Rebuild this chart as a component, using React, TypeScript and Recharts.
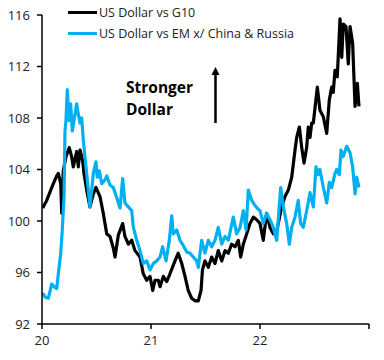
import { LineChart, Line, XAxis, YAxis } from "recharts";

// decimal years (20 = 2020)
const g10Dates = [
  20.006, 20.043, 20.104, 20.135, 20.15, 20.172, 20.181, 20.195, 20.22, 20.25, 20.272, 20.287,
  20.318, 20.333, 20.349, 20.373, 20.385, 20.41, 20.44, 20.471, 20.495, 20.532, 20.562, 20.594,
  20.624, 20.654, 20.67, 20.7, 20.74, 20.761, 20.792, 20.823, 20.853, 20.899, 20.929, 20.961,
  20.991, 21.016, 21.037, 21.067, 21.083, 21.113, 21.144, 21.174, 21.22, 21.25, 21.282, 21.312,
  21.342, 21.373, 21.404, 21.434, 21.459, 21.472, 21.495, 21.526, 21.557, 21.587, 21.617, 21.649,
  21.679, 21.709, 21.74, 21.771, 21.801, 21.823, 21.847, 21.878, 21.908, 21.939, 21.97, 22.0,
  22.03, 22.061, 22.092, 22.122, 22.153, 22.199, 22.229, 22.26, 22.291, 22.321, 22.337, 22.361,
  22.383, 22.404, 22.428, 22.443, 22.459, 22.474, 22.489, 22.526, 22.55, 22.581, 22.612, 22.636,
  22.658, 22.672, 22.688, 22.709, 22.734, 22.75, 22.764, 22.789, 22.81, 22.826, 22.85, 22.872,
  22.893, 22.908,
];
const g10Values = [
  101.0, 101.6, 102.9, 103.5, 103.7, 102.9, 100.6, 103.9, 105.0, 105.7, 105.0, 104.2,
  105.4, 104.2, 105.5, 104.7, 103.7, 102.4, 101.1, 102.1, 102.6, 101.9, 100.6, 99.0,
  98.8, 97.9, 97.2, 98.9, 99.8, 98.8, 98.2, 98.5, 97.7, 97.2, 95.9, 95.4,
  95.7, 94.6, 95.4, 95.4, 94.9, 95.7, 95.3, 95.9, 96.9, 97.5, 96.7, 95.7,
  94.6, 94.0, 93.8, 93.8, 94.6, 96.2, 96.9, 96.4, 97.2, 96.7, 97.7, 96.9,
  97.7, 97.5, 98.2, 98.0, 98.5, 97.2, 98.2, 99.0, 99.8, 100.3, 100.1, 99.8,
  98.5, 100.6, 99.5, 99.0, 99.2, 101.1, 101.9, 102.4, 103.4, 105.5, 106.5, 107.3,
  105.7, 104.5, 105.7, 107.3, 106.5, 107.6, 107.6, 110.4, 108.6, 108.1, 106.8, 109.4,
  110.4, 110.0, 111.7, 111.2, 115.7, 112.7, 115.3, 115.1, 112.2, 115.1, 113.8, 108.9,
  110.7, 108.9,
];

const emDates = [
  20.006, 20.028, 20.058, 20.089, 20.11, 20.135, 20.15, 20.172, 20.186, 20.202, 20.211, 20.22,
  20.232, 20.248, 20.263, 20.278, 20.294, 20.318, 20.333, 20.349, 20.364, 20.379, 20.394, 20.425,
  20.44, 20.456, 20.471, 20.495, 20.507, 20.526, 20.548, 20.578, 20.594, 20.624, 20.654, 20.686,
  20.716, 20.74, 20.761, 20.792, 20.823, 20.838, 20.869, 20.899, 20.929, 20.961, 20.991, 21.021,
  21.052, 21.083, 21.107, 21.138, 21.168, 21.19, 21.205, 21.236, 21.266, 21.296, 21.328, 21.358,
  21.388, 21.419, 21.434, 21.465, 21.495, 21.526, 21.557, 21.587, 21.617, 21.649, 21.679, 21.709,
  21.755, 21.786, 21.817, 21.847, 21.872, 21.893, 21.924, 21.954, 21.985, 22.0, 22.03, 22.061,
  22.092, 22.122, 22.153, 22.19, 22.214, 22.245, 22.269, 22.291, 22.321, 22.351, 22.373, 22.397,
  22.428, 22.459, 22.489, 22.514, 22.535, 22.55, 22.581, 22.612, 22.636, 22.658, 22.688, 22.703,
  22.728, 22.743, 22.764, 22.795, 22.826, 22.85, 22.872, 22.888, 22.908,
];
const emValues = [
  94.4, 94.1, 94.0, 95.1, 94.9, 94.75, 95.9, 97.5, 99.3, 101.9, 107.0, 107.8,
  110.2, 107.8, 109.1, 107.0, 107.8, 109.1, 108.3, 107.6, 108.0, 106.3, 105.0, 102.4,
  101.1, 102.4, 103.7, 104.6, 103.4, 103.9, 102.9, 103.2, 103.5, 102.8, 102.6, 101.8,
  101.0, 103.3, 101.4, 101.1, 100.8, 99.5, 98.5, 97.7, 96.7, 96.9, 96.2, 96.7,
  96.9, 97.2, 98.0, 96.9, 98.5, 100.4, 99.0, 99.3, 98.5, 98.1, 97.6, 97.5,
  97.2, 96.9, 96.4, 98.5, 97.5, 98.5, 98.0, 98.5, 99.5, 98.2, 98.8, 98.5,
  100.3, 99.0, 99.5, 100.8, 99.3, 102.4, 101.6, 101.2, 100.9, 100.8, 99.8, 100.6,
  100.1, 99.5, 98.5, 102.6, 101.1, 99.8, 98.2, 99.5, 100.3, 101.6, 99.8, 99.5,
  100.8, 102.2, 101.1, 104.2, 103.6, 104.0, 102.6, 101.4, 103.0, 102.6, 103.7, 104.0,
  103.6, 105.5, 105.0, 105.8, 105.3, 104.2, 102.1, 103.4, 102.6,
];

const xTicks = [20, 21, 22, 23];
const yTicks = [92, 96, 100, 104, 108, 112, 116];
const seriesNames = ["US Dollar vs G10", "US Dollar vs EM x/ China & Russia"];

const g10 = g10Dates.map((t, i) => ({ t, v: g10Values[i] }));
const em = emDates.map((t, i) => ({ t, v: emValues[i] }));

const FONT = "'Open Sans', sans-serif";
const BLUE = "#00B0F0";

export default function App() {
  return (
    <div style={{ position: "absolute", left: 0, top: 0, width: 384, height: 360, background: "#fff" }}>
      <LineChart width={384} height={360} margin={{ top: 15, right: 15, bottom: 6, left: 0 }}>
        <XAxis
          dataKey="t"
          type="number"
          domain={[20, 23]}
          ticks={xTicks}
          tickFormatter={(v) => (v === 23 ? "" : String(v))}
          allowDataOverflow
          stroke="#000"
          strokeWidth={1.5}
          tickSize={5}
          tickMargin={7}
          tick={{ fill: "#222", fontSize: 13, fontFamily: FONT }}
        />
        <YAxis
          type="number"
          domain={[92, 116]}
          ticks={yTicks}
          width={42}
          stroke="#000"
          strokeWidth={1.5}
          tickSize={5}
          tickMargin={7}
          tick={{ fill: "#222", fontSize: 13, fontFamily: FONT }}
        />
        <Line data={g10} dataKey="v" stroke="#000" strokeWidth={3.2} dot={false} isAnimationActive={false} strokeLinejoin="round" />
        <Line data={em} dataKey="v" stroke={BLUE} strokeWidth={3.2} dot={false} isAnimationActive={false} strokeLinejoin="round" />
      </LineChart>

      {/* legend */}
      <div style={{ position: "absolute", left: 68, top: 2, fontFamily: FONT, fontSize: 12.5, color: "#222" }}>
        {seriesNames.map((name, i) => (
          <div key={name} style={{ display: "flex", alignItems: "center", height: 21 }}>
            <span
              style={{
                display: "inline-block",
                width: 29,
                height: 3,
                background: i === 0 ? "#000" : BLUE,
                marginRight: 2,
              }}
            />
            <span>{name}</span>
          </div>
        ))}
      </div>

      {/* annotation */}
      <div
        style={{
          position: "absolute",
          left: 126,
          top: 76,
          fontFamily: FONT,
          fontWeight: 700,
          fontSize: 15.5,
          lineHeight: "22px",
          color: "#000",
        }}
      >
        Stronger
        <br />
        Dollar
      </div>
      <svg style={{ position: "absolute", left: 0, top: 0 }} width={384} height={360}>
        <line x1={215.5} y1={123} x2={215.5} y2={74} stroke="#000" strokeWidth={2.5} />
        <polygon points="215.5,67 211.5,75 219.5,75" fill="#000" />
      </svg>
    </div>
  );
}
